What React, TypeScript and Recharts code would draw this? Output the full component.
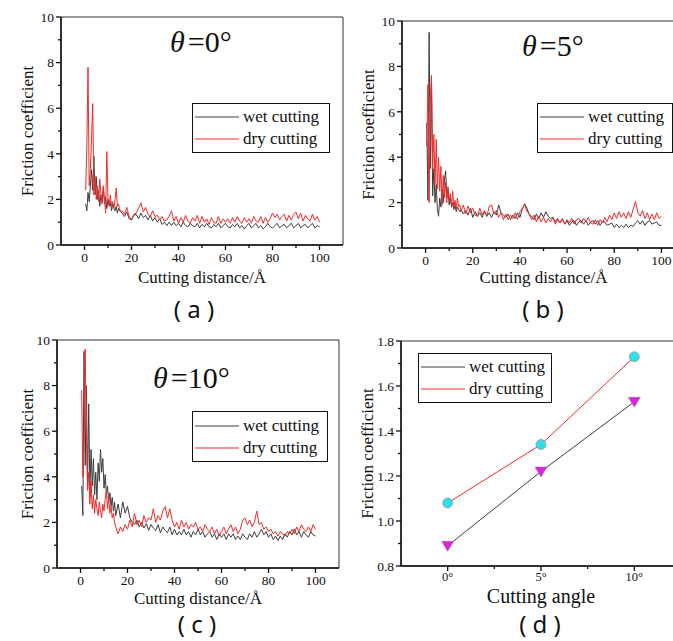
import React from 'react';
import { LineChart, Line, XAxis, YAxis, ReferenceArea, Legend } from 'recharts';

// sampling positions along the cut (Å)
const distance = [
  0.5, 1, 1.5, 2, 2.5, 3, 3.5, 4, 4.5, 5,
  5.5, 6, 6.5, 7, 7.5, 8, 8.5, 9, 9.5, 10,
  10.5, 11, 11.5, 12, 12.5, 13, 13.5, 14, 14.5, 15,
  16, 17, 18, 19, 20, 21, 22, 23, 24, 25,
  26, 27, 28, 29, 30, 31, 32, 33, 34, 35,
  36, 37, 38, 39, 40, 41, 42, 43, 44, 45,
  46, 47, 48, 49, 50, 51, 52, 53, 54, 55,
  56, 57, 58, 59, 60, 61, 62, 63, 64, 65,
  66, 67, 68, 69, 70, 71, 72, 73, 74, 75,
  76, 77, 78, 79, 80, 81, 82, 83, 84, 85,
  86, 87, 88, 89, 90, 91, 92, 93, 94, 95,
  96, 97, 98, 99, 100,
];

// theta = 0
const wet0 = [
  1.8, 1.5, 2.3, 1.9, 2.6, 3.3, 2.4, 3.9, 2.2, 3.0,
  2.0, 2.4, 1.7, 2.2, 1.9, 2.5, 1.8, 2.1, 1.6, 2.0,
  1.7, 1.9, 1.5, 1.8, 1.6, 1.5, 1.7, 1.4, 1.6, 1.5,
  1.4, 1.25, 1.45, 1.15, 1.1, 1.3, 1.35, 1.15, 1.4, 1.2,
  1.3, 1.1, 1.3, 1.05, 1.2, 1.0, 1.15, 0.9, 1.0, 0.85,
  1.0, 0.85, 1.0, 0.85, 0.95, 0.8, 1.0, 0.85, 0.8, 0.95,
  0.85, 0.8, 0.95, 0.75, 0.9, 0.8, 0.95, 0.8, 0.75, 0.9,
  0.8, 0.95, 0.75, 0.85, 0.95, 0.8, 0.75, 0.9, 0.8, 0.95,
  0.75, 0.85, 0.7, 0.85, 0.95, 0.75, 0.85, 0.95, 0.75, 0.85,
  0.7, 0.8, 0.95, 0.8, 0.75, 0.85, 0.95, 0.75, 0.85, 0.9,
  0.75, 0.85, 0.95, 0.75, 0.85, 0.95, 0.75, 0.85, 0.9, 0.75,
  0.85, 0.95, 0.75, 0.85, 0.8,
];
const dry0 = [
  2.4, 4.3, 7.8, 2.6, 3.3, 4.7, 6.2, 2.2, 3.0, 2.0,
  2.6, 1.9, 2.9, 2.2, 1.8, 2.6, 2.0, 1.4, 4.1, 2.0,
  1.8, 2.2, 1.7, 1.9, 1.6, 2.0, 2.5, 1.7, 1.8, 1.5,
  1.5, 1.35, 1.65, 1.25, 1.1, 1.35, 1.4, 1.6, 1.85, 1.45,
  1.65, 1.35, 1.25, 1.5, 1.25, 1.3, 1.1, 1.25, 1.05, 1.1,
  1.25, 1.5, 1.05, 1.25, 0.95, 1.2, 1.0, 1.3, 1.05, 0.95,
  1.2, 1.05, 1.3, 0.95, 1.25, 1.0, 1.15, 0.9, 1.2, 1.0,
  0.95, 1.25, 0.95, 1.15, 1.0, 1.15, 0.95, 1.2, 1.0, 1.25,
  1.05, 0.95, 1.2, 1.0, 1.15, 0.95, 1.25, 1.05, 1.0, 1.25,
  0.95, 1.2, 1.0, 1.15, 1.4, 1.2, 1.35, 1.1, 1.25, 1.35,
  1.05, 1.3, 1.1, 1.35, 1.45, 1.15, 1.4, 1.05, 1.3, 1.15,
  1.05, 1.35, 1.1, 1.25, 1.0,
];

// theta = 5
const wet5 = [
  5.5, 2.1, 9.5, 3.5, 7.5, 2.3, 3.5, 2.0, 2.8, 1.7,
  1.4, 2.2, 1.8, 2.6, 2.0, 3.0, 3.4, 2.2, 2.6, 1.9,
  2.2, 1.8, 2.0, 1.7, 1.9, 1.6, 1.8, 1.7, 1.6, 1.7,
  1.5, 1.65, 1.45, 1.75, 1.35, 1.6, 1.4, 1.55, 1.35, 1.6,
  1.4, 1.55, 1.35, 1.6, 1.45, 1.9, 1.55, 1.45, 1.35, 1.5,
  1.25, 1.45, 1.3, 1.55, 1.35, 1.7, 1.95, 1.75, 1.45, 1.4,
  1.25, 1.5, 1.3, 1.55, 1.35, 1.6, 1.4, 1.3, 1.35, 1.15,
  1.3, 1.1, 1.25, 1.05, 1.2, 1.0, 1.15, 1.2, 1.0, 1.15,
  1.2, 1.05, 1.2, 1.0, 1.15, 1.2, 1.05, 1.2, 1.0, 1.15,
  1.15, 1.0, 1.05, 1.1, 0.9, 1.05, 0.9, 1.0, 0.9, 1.05,
  0.9, 1.0, 0.95, 1.1, 1.2, 1.05, 1.2, 1.0, 1.15, 1.2,
  1.05, 1.1, 1.15, 1.0, 1.0,
];
const dry5 = [
  4.5, 7.2, 2.0, 6.5, 7.6, 3.5, 5.0, 2.8, 4.8, 2.6,
  4.0, 2.5, 3.6, 1.9, 3.2, 2.2, 2.9, 2.0, 2.7, 2.1,
  2.4, 1.9, 2.5, 1.8, 2.1, 1.7, 2.2, 1.8, 1.9, 1.6,
  1.9, 1.5, 1.85, 1.55, 1.75, 1.45, 1.4, 1.75, 1.45, 1.65,
  1.4, 1.85, 1.9, 1.5, 1.65, 1.35, 1.55, 1.25, 1.5, 1.25,
  1.45, 1.3, 1.55, 1.25, 1.6, 1.75, 1.9, 1.6, 1.5, 1.25,
  1.45, 1.15, 1.4, 1.15, 1.35, 1.1, 1.3, 1.15, 1.35, 1.05,
  1.25, 1.1, 1.3, 1.05, 1.25, 1.1, 1.3, 1.05, 1.25, 1.3,
  1.1, 1.3, 1.15, 1.35, 1.1, 1.05, 1.25, 1.0, 1.25, 1.1,
  1.35, 1.15, 1.45, 1.25, 1.55, 1.3, 1.6, 1.35, 1.55, 1.3,
  1.6, 1.35, 1.7, 2.05, 1.55, 1.4, 1.65, 1.3, 1.55, 1.25,
  1.5, 1.25, 1.55, 1.3, 1.4,
];

// theta = 10
const wet10 = [
  3.6, 2.3, 9.5, 4.5, 8.0, 3.5, 7.2, 3.4, 5.2, 3.6,
  4.8, 3.2, 4.2, 3.0, 4.6, 3.8, 5.2, 4.2, 4.8, 3.5,
  4.1, 3.2, 3.6, 2.9, 3.3, 2.7, 3.1, 2.5, 2.9, 2.3,
  2.8, 2.2, 2.9, 2.4, 2.7, 2.2, 2.0, 1.9, 2.1, 1.8,
  2.0, 1.75, 1.95, 1.65, 1.9, 1.75, 1.65, 1.9, 1.55, 1.8,
  1.65, 1.55, 1.8, 1.45, 1.7, 1.45, 1.6, 1.45, 1.7, 1.45,
  1.6, 1.35, 1.6, 1.45, 1.7, 1.45, 1.6, 1.35, 1.5, 1.6,
  1.35, 1.5, 1.25, 1.5, 1.35, 1.5, 1.25, 1.5, 1.35, 1.5,
  1.25, 1.4, 1.25, 1.5, 1.35, 1.25, 1.5, 1.35, 1.6, 1.35,
  1.5, 1.7, 1.45, 1.6, 1.35, 1.5, 1.25, 1.4, 1.2, 1.4,
  1.25, 1.5, 1.35, 1.6, 1.45, 1.7, 1.45, 1.6, 1.35, 1.6,
  1.45, 1.35, 1.6, 1.45, 1.4,
];
const dry10 = [
  7.8, 4.0, 5.5, 9.6, 6.0, 3.4, 4.2, 2.8, 3.8, 2.6,
  3.2, 2.4, 3.0, 2.6, 2.3, 2.9, 2.5, 2.2, 2.8, 2.5,
  3.0, 3.4, 2.6, 3.1, 2.4, 2.7, 2.2, 2.4, 2.0, 1.8,
  1.5, 1.8, 1.6, 1.9, 1.7, 2.1, 1.8, 2.4, 1.9, 2.1,
  1.8, 2.3, 2.0, 2.2, 2.1, 2.6, 2.0, 2.3, 2.1, 2.5,
  2.7, 2.2, 2.6, 2.1, 1.8, 2.0, 1.7, 2.1, 1.8, 2.0,
  1.7, 1.9, 1.8, 2.0, 1.7, 1.8, 1.6, 1.9, 1.7, 1.6,
  1.8, 1.5, 1.7, 1.4, 1.6, 1.8, 1.5, 1.7, 1.9, 1.6,
  1.8, 1.5, 1.7, 2.1, 2.2, 1.9, 2.1, 1.8, 2.0, 2.5,
  1.9, 2.0, 1.7, 1.8, 1.6, 1.7, 1.5, 1.6, 1.4, 1.6,
  1.5, 1.4, 1.6, 1.5, 1.7, 1.5, 1.8, 1.6, 1.9, 1.7,
  1.6, 1.8, 1.6, 1.9, 1.7,
];

// panel d: average friction vs cutting angle
const angles = [0, 5, 10];
const wetMean = [0.89, 1.22, 1.53];
const dryMean = [1.08, 1.34, 1.73];

const legendOrder = ['wet cutting', 'dry cutting'];
const distTicks = [0, 10, 20, 30, 40, 50, 60, 70, 80, 90, 100];
const distMajor = [0, 20, 40, 60, 80, 100];
const coefTicks = [0, 1, 2, 3, 4, 5, 6, 7, 8, 9, 10];
const coefMajor = [0, 2, 4, 6, 8, 10];
const angleTicks = [0, 2.5, 5, 7.5, 10];
const angleMajor = [0, 5, 10];
const meanTicks = [0.8, 0.9, 1.0, 1.1, 1.2, 1.3, 1.4, 1.5, 1.6, 1.7, 1.8];
const meanMajor = [0.8, 1.0, 1.2, 1.4, 1.6, 1.8];

const SERIF = '"Liberation Serif", "Times New Roman", Times, serif';
const INK = '#111';
const WET = '#3d3d3d';
const DRY = '#f42a2a';
const AXIS_W = 60;
const AXIS_H = 50;
const PAD_T = 10;
const PAD_R = 10;

const serifText = (size: number): React.CSSProperties => ({ fontFamily: SERIF, fontSize: size, fill: INK });

const bottomTick = (majors: number[], fmt: (v: number) => string, fontSize: number, gap: number) =>
  (p: any) => {
    const major = majors.includes(p.payload.value);
    return (
      <g>
        <line x1={p.x} y1={p.y} x2={p.x} y2={p.y + (major ? 5 : 3)} stroke={INK} strokeWidth={1.3} />
        {major && (
          <text x={p.x} y={p.y + gap} textAnchor="middle" style={serifText(fontSize)}>
            {fmt(p.payload.value)}
          </text>
        )}
      </g>
    );
  };

const leftTick = (majors: number[], fmt: (v: number) => string) =>
  (p: any) => {
    const major = majors.includes(p.payload.value);
    return (
      <g>
        <line x1={p.x - (major ? 5 : 3)} y1={p.y} x2={p.x} y2={p.y} stroke={INK} strokeWidth={1.3} />
        {major && (
          <text x={p.x - 7} y={p.y} dy="0.35em" textAnchor="end" style={serifText(13.5)}>
            {fmt(p.payload.value)}
          </text>
        )}
      </g>
    );
  };

const LegendBox = ({ payload, w, h }: { payload?: any[]; w: number; h: number }) => {
  const items = (payload ?? []).slice().sort((a, b) => legendOrder.indexOf(a.value) - legendOrder.indexOf(b.value));
  return (
    <div
      style={{
        width: w,
        height: h,
        boxSizing: 'border-box',
        border: `1.5px solid ${INK}`,
        background: '#fff',
        fontFamily: SERIF,
        fontSize: 17,
        color: INK,
        display: 'flex',
        flexDirection: 'column',
        justifyContent: 'center',
        paddingLeft: 2,
      }}
    >
      {items.map((it) => (
        <div key={it.value} style={{ display: 'flex', alignItems: 'center', height: 22 }}>
          <svg width={44} height={4}>
            <line x1={0} y1={2} x2={44} y2={2} stroke={it.color} strokeWidth={1} />
          </svg>
          <span style={{ marginLeft: 4, lineHeight: '22px', whiteSpace: 'nowrap' }}>{it.value}</span>
        </div>
      ))}
    </div>
  );
};

interface DistPanelProps {
  left: number;
  top: number;
  width: number;
  height: number;
  wet: number[];
  dry: number[];
  legend: [number, number, number, number];
  yLabelX: number;
  xLabelBase: number;
}

const DistPanel: React.FC<DistPanelProps> = ({ left, top, width, height, wet, dry, legend, yLabelX, xLabelBase }) => {
  const rows = distance.map((d, i) => ({ d, wet: wet[i], dry: dry[i] }));
  const cx = left - AXIS_W;
  const cy = top - PAD_T;
  return (
    <div style={{ position: 'absolute', left: cx, top: cy }}>
      <LineChart
        width={AXIS_W + width + PAD_R}
        height={PAD_T + height + AXIS_H}
        data={rows}
        margin={{ top: PAD_T, right: PAD_R, bottom: 0, left: 0 }}
      >
        <XAxis
          type="number"
          dataKey="d"
          domain={[-10, 110]}
          ticks={distTicks}
          interval={0}
          allowDataOverflow
          height={AXIS_H}
          tickSize={0}
          tickMargin={0}
          tickLine={false}
          axisLine={{ stroke: INK, strokeWidth: 1.5 }}
          tick={bottomTick(distMajor, (v) => String(v), 13.5, 17)}
          label={{
            value: 'Cutting distance/Å',
            position: 'insideBottom',
            offset: top + height + AXIS_H - xLabelBase,
            style: serifText(17),
          }}
        />
        <YAxis
          type="number"
          domain={[0, 10]}
          ticks={coefTicks}
          interval={0}
          allowDataOverflow
          width={AXIS_W}
          tickSize={0}
          tickMargin={0}
          tickLine={false}
          axisLine={{ stroke: INK, strokeWidth: 1.5 }}
          tick={leftTick(coefMajor, (v) => String(v))}
          label={{
            value: 'Friction coefficient',
            angle: -90,
            position: 'insideLeft',
            offset: yLabelX - cx,
            style: { ...serifText(17), textAnchor: 'middle' },
          }}
        />
        <ReferenceArea x1={-10} x2={110} y1={0} y2={10} fill="none" stroke="#333" strokeWidth={1} />
        <Line type="linear" dataKey="wet" name="wet cutting" stroke={WET} strokeWidth={1} dot={false} isAnimationActive={false} />
        <Line type="linear" dataKey="dry" name="dry cutting" stroke={DRY} strokeWidth={1} dot={false} isAnimationActive={false} />
        <Legend
          layout="vertical"
          align="center"
          verticalAlign="middle"
          content={(p: any) => <LegendBox payload={p.payload} w={legend[2]} h={legend[3]} />}
          wrapperStyle={{ left: legend[0] - cx, top: legend[1] - cy, width: legend[2], height: legend[3] }}
        />
      </LineChart>
    </div>
  );
};

const Circle = (p: any) => (
  <circle cx={p.cx} cy={p.cy} r={5} fill="#2fe0ea" stroke="#9a9a9a" strokeWidth={0.8} />
);
const DownTriangle = (p: any) => (
  <polygon
    points={`${p.cx - 6},${p.cy - 4.5} ${p.cx + 6},${p.cy - 4.5} ${p.cx},${p.cy + 5.5}`}
    fill="#e21ee2"
    stroke="#8a8a8a"
    strokeWidth={0.6}
  />
);

const AnglePanel: React.FC = () => {
  const left = 401;
  const top = 341;
  const width = 280;
  const height = 225;
  const cx = left - AXIS_W;
  const cy = top - PAD_T;
  const rows = angles.map((a, i) => ({ a, wet: wetMean[i], dry: dryMean[i] }));
  return (
    <div style={{ position: 'absolute', left: cx, top: cy }}>
      <LineChart
        width={AXIS_W + width + PAD_R}
        height={PAD_T + height + AXIS_H}
        data={rows}
        margin={{ top: PAD_T, right: PAD_R, bottom: 0, left: 0 }}
      >
        <XAxis
          type="number"
          dataKey="a"
          domain={[-2.5, 12.5]}
          ticks={angleTicks}
          interval={0}
          allowDataOverflow
          height={AXIS_H}
          tickSize={0}
          tickMargin={0}
          tickLine={false}
          axisLine={{ stroke: INK, strokeWidth: 1.5 }}
          tick={bottomTick(angleMajor, (v) => `${v}°`, 12.5, 15)}
          label={{
            value: 'Cutting angle',
            position: 'insideBottom',
            offset: top + height + AXIS_H - 603,
            style: serifText(20),
          }}
        />
        <YAxis
          type="number"
          domain={[0.8, 1.8]}
          ticks={meanTicks}
          interval={0}
          allowDataOverflow
          width={AXIS_W}
          tickSize={0}
          tickMargin={0}
          tickLine={false}
          axisLine={{ stroke: INK, strokeWidth: 1.5 }}
          tick={leftTick(meanMajor, (v) => v.toFixed(1))}
          label={{
            value: 'Friction coefficient',
            angle: -90,
            position: 'insideLeft',
            offset: 367 - cx,
            style: { ...serifText(17), textAnchor: 'middle' },
          }}
        />
        <ReferenceArea x1={-2.5} x2={12.5} y1={0.8} y2={1.8} fill="none" stroke="#333" strokeWidth={1} />
        <Line type="linear" dataKey="wet" name="wet cutting" stroke={WET} strokeWidth={1} dot={<DownTriangle />} isAnimationActive={false} />
        <Line type="linear" dataKey="dry" name="dry cutting" stroke={DRY} strokeWidth={1} dot={<Circle />} isAnimationActive={false} />
        <Legend
          layout="vertical"
          align="center"
          verticalAlign="middle"
          content={(p: any) => <LegendBox payload={p.payload} w={134} h={50} />}
          wrapperStyle={{ left: 418 - cx, top: 353 - cy, width: 134, height: 50 }}
        />
      </LineChart>
    </div>
  );
};

const Title = ({ x, y, deg }: { x: number; y: number; deg: string }) => (
  <text x={x} y={y} style={serifText(30)}>
    <tspan style={{ fontStyle: 'italic' }}>θ</tspan>
    <tspan dx={3}>={deg}°</tspan>
  </text>
);

const Tag = ({ x, y, t }: { x: number; y: number; t: string }) => (
  <text x={x} y={y} textAnchor="middle" style={{ fontFamily: '"Noto Sans", sans-serif', fontSize: 24, fill: INK }}>
    ( {t} )
  </text>
);

export default function App() {
  return (
    <div style={{ position: 'absolute', left: 0, top: 0, width: 673, height: 641, overflow: 'hidden', background: '#fff' }}>
      <DistPanel left={61} top={17} width={282} height={228} wet={wet0} dry={dry0} legend={[192, 103, 138, 50]} yLabelX={27} xLabelBase={283} />
      <DistPanel left={402} top={21} width={283} height={227} wet={wet5} dry={dry5} legend={[537, 103, 136, 50]} yLabelX={368} xLabelBase={283} />
      <DistPanel left={57} top={340} width={282} height={228} wet={wet10} dry={dry10} legend={[192, 411, 136, 51]} yLabelX={27} xLabelBase={604} />
      <AnglePanel />
      <svg width={673} height={641} style={{ position: 'absolute', left: 0, top: 0, pointerEvents: 'none' }}>
        <Title x={170} y={52} deg="0" />
        <Title x={522} y={56} deg="5" />
        <Title x={153} y={388} deg="10" />
        <Tag x={194} y={318} t="a" />
        <Tag x={543} y={318} t="b" />
        <Tag x={197} y={633} t="c" />
        <Tag x={540} y={633} t="d" />
      </svg>
    </div>
  );
}
